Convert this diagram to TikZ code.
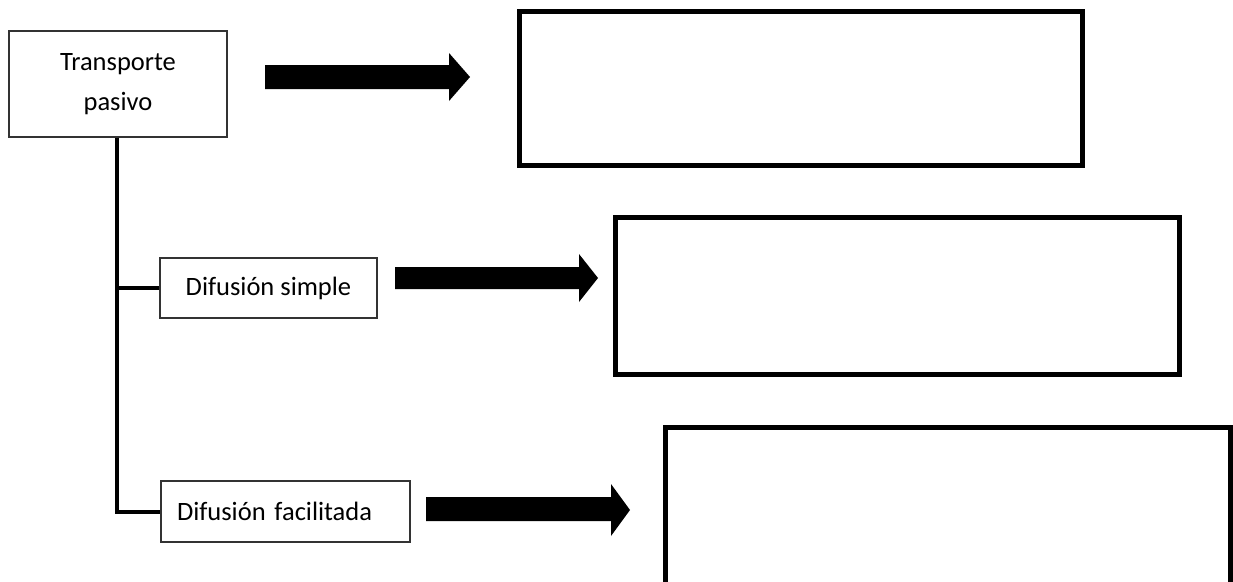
\documentclass[tikz,border=0pt]{standalone}
\usepackage{fontspec}
\setmainfont{Carlito}
\begin{document}
\begin{tikzpicture}[x=1pt,y=-1pt,
  labelbox/.style={draw=black!80,line width=1.2pt,fill=white,inner sep=0pt,
    font=\fontsize{26.5}{40}\selectfont,align=center},
  answerbox/.style={draw=black,line width=5pt,inner sep=0pt},
  branch/.style={draw=black,line width=3.6pt},
  fatarrow/.style={fill=black}]
\useasboundingbox (0,0) rectangle (1233,581);
\clip (0,0) rectangle (1233,581);

% concept boxes
\node[labelbox,minimum width=218pt,minimum height=106pt] (tp) at (118,84)
  {Transporte\\pasivo};
\node[labelbox,minimum width=217pt,minimum height=60pt] (ds) at (268.5,288)
  {Difusión simple};
\node[labelbox,minimum height=61pt,text width=217pt,inner xsep=16pt,align=left]
  (df) at (285.5,511.5) {Difusión facilitada};

% empty answer boxes
\node[answerbox,minimum width=563pt,minimum height=154pt] (a1) at (800.5,88) {};
\node[answerbox,minimum width=563.5pt,minimum height=157pt] (a2) at (897.25,296) {};
\coordinate (a3sw) at (665.5,600);
\coordinate (a3se) at (1230,600);
\draw[line width=5pt] (a3sw) -- (665.5,427.5) -- (1230,427.5) -- (a3se);

% tree connectors
\coordinate (trunkbot) at (117,512);
\draw[branch] (tp.south -| trunkbot) -- (trunkbot) -- (df.west |- trunkbot);
\draw[branch] (ds.west -| trunkbot) -- (ds.west);

% block arrows
\fill[fatarrow] (265,65) -- (449,65) -- (449,53) -- (470,77) -- (449,101)
  -- (449,89) -- (265,89) -- cycle;
\fill[fatarrow] (395,267) -- (579,267) -- (579,254) -- (598,278) -- (579,302)
  -- (579,289) -- (395,289) -- cycle;
\fill[fatarrow] (426,497) -- (611,497) -- (611,484) -- (630,510) -- (611,536)
  -- (611,521) -- (426,521) -- cycle;
\end{tikzpicture}
\end{document}
